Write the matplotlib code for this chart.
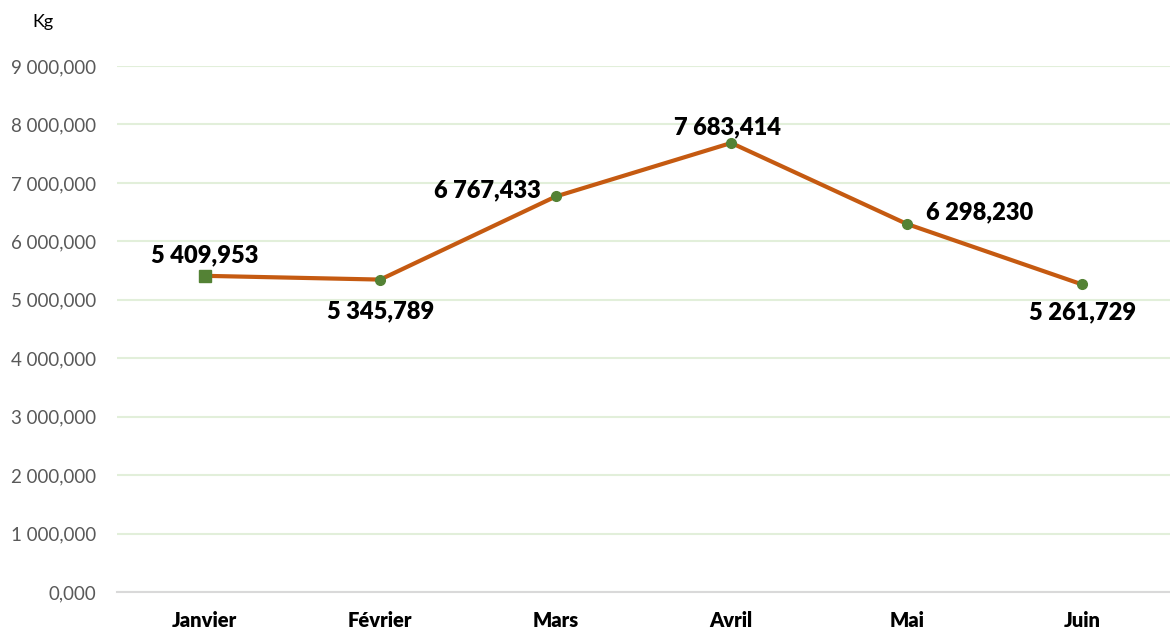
import matplotlib.pyplot as plt
from matplotlib.ticker import FuncFormatter

# données (kg)
mois = ["Janvier", "Février", "Mars", "Avril", "Mai", "Juin"]
poids = [5409953, 5345789, 6767433, 7683414, 6298230, 5261729]
etiquettes = ["5 409,953", "5 345,789", "6 767,433", "7 683,414", "6 298,230", "5 261,729"]
y_ticks = [0, 1000000, 2000000, 3000000, 4000000, 5000000, 6000000, 7000000, 8000000, 9000000]

plt.rcParams['font.family'] = ['Lato', 'DejaVu Sans']

fig = plt.figure(figsize=(11.7, 6.33), dpi=100)
ax = fig.add_axes([0.1, 0.0648, 0.9, 0.8309])

x = list(range(len(mois)))
ax.plot(x, poids, color='#C55A11', linewidth=3, zorder=2)
ax.plot(x[1:], poids[1:], 'o', color='#548235', markersize=7, zorder=3)
ax.plot(x[:1], poids[:1], 's', color='#548235', markersize=8, zorder=3)


def fmt(v, pos):
    return f"{v/1000:,.3f}".replace(",", " ").replace(".", ",")


ax.set_ylim(0, 9000000)
ax.set_xlim(-0.5, 5.5)
ax.set_yticks(y_ticks)
ax.yaxis.set_major_formatter(FuncFormatter(fmt))
ax.set_xticks(x)
ax.set_xticklabels(mois, fontweight='heavy', fontsize=14.5)
ax.tick_params(axis='y', colors='#595959', labelsize=13.5, length=0, pad=15)
ax.tick_params(axis='x', length=0, pad=14)
ax.grid(axis='y', color='#E2EFDA', linewidth=1.5)
ax.set_axisbelow(True)
for s in ['top', 'right', 'left']:
    ax.spines[s].set_visible(False)
ax.spines['bottom'].set_color('#D9D9D9')
ax.spines['bottom'].set_linewidth(1.5)

# position des étiquettes (décalage en points, centre du texte)
decalages = [(0, 14.5, 'center'), (0, -23, 'center'), (-11, 4.5, 'right'),
             (-3, 11.5, 'center'), (13.5, 8, 'left'), (0, -20, 'center')]
for i, (dx, dy, ha) in enumerate(decalages):
    ax.annotate(etiquettes[i], (x[i], poids[i]), xytext=(dx, dy),
                textcoords='offset points', ha=ha, va='center',
                fontsize=17, fontweight='heavy', color='black')

fig.text(0.028, 0.965, "Kg", fontsize=13, color='black', va='center')

fig.savefig("out.png", dpi=100)
